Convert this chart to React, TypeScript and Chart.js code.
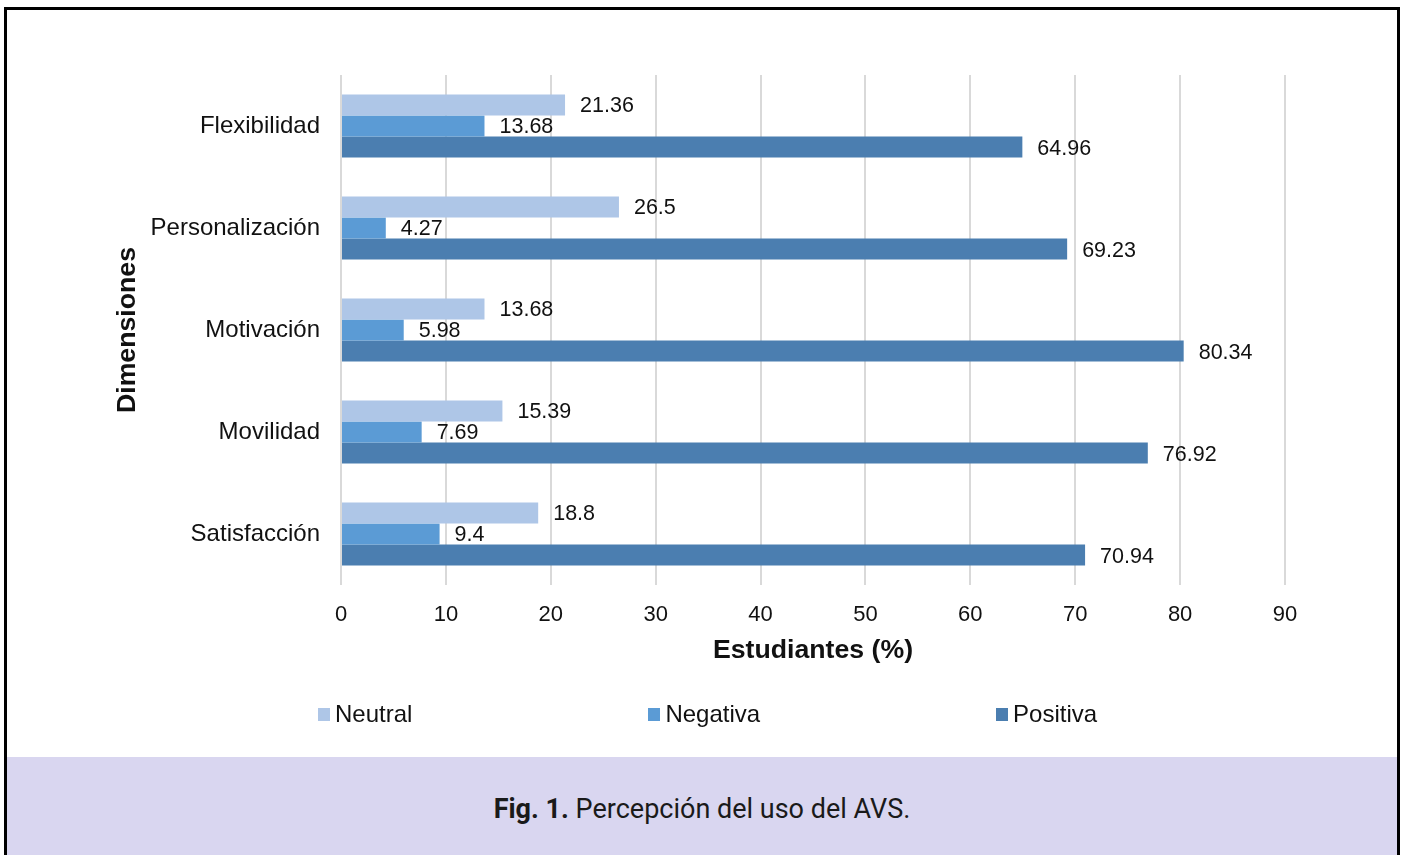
import React, { useEffect, useRef } from "react";
import { Chart, registerables } from "chart.js";

Chart.register(...registerables);

const categories = ["Flexibilidad", "Personalización", "Motivación", "Movilidad", "Satisfacción"];
const seriesNames = ["Neutral", "Negativa", "Positiva"];
const neutralValues = [21.36, 26.5, 13.68, 15.39, 18.8];
const negativeValues = [13.68, 4.27, 5.98, 7.69, 9.4];
const positiveValues = [64.96, 69.23, 80.34, 76.92, 70.94];
const seriesColors = ["#AEC6E7", "#5B9BD5", "#4B7EB0"];
const xMin = 0;
const xMax = 90;
const xStep = 10;
const xTitle = "Estudiantes (%)";
const yTitle = "Dimensiones";
const captionBold = "Fig. 1.";
const captionText = " Percepción del uso del AVS.";

const FONT = "'Liberation Sans', Arial, Helvetica, sans-serif";
const TEXT = "#111111";

const valueLabels = {
  id: "valueLabels",
  afterDatasetsDraw(chart: any) {
    const ctx = chart.ctx;
    ctx.save();
    ctx.font = `21.5px ${FONT}`;
    ctx.fillStyle = TEXT;
    ctx.textAlign = "left";
    ctx.textBaseline = "middle";
    chart.data.datasets.forEach((ds: any, i: number) => {
      const meta = chart.getDatasetMeta(i);
      meta.data.forEach((bar: any, j: number) => {
        const p = bar.getProps(["x", "y"], true);
        ctx.fillText(String(ds.data[j]), p.x + 15, p.y + 1.5);
      });
    });
    ctx.restore();
  },
};

export default function App() {
  const canvasRef = useRef<HTMLCanvasElement | null>(null);

  useEffect(() => {
    if (!canvasRef.current) return;
    const values = [neutralValues, negativeValues, positiveValues];
    const chart = new Chart(canvasRef.current, {
      type: "bar",
      data: {
        labels: categories,
        datasets: seriesNames.map((name, i) => ({
          label: name,
          data: values[i],
          backgroundColor: seriesColors[i],
          borderWidth: 0,
          categoryPercentage: 0.62,
          barPercentage: 1,
        })),
      },
      options: {
        indexAxis: "y",
        animation: false,
        responsive: false,
        devicePixelRatio: 1,
        layout: { padding: { top: 65, right: 112, bottom: 82, left: 0 } },
        plugins: {
          legend: { display: false },
          tooltip: { enabled: false },
        },
        scales: {
          x: {
            type: "linear",
            min: xMin,
            max: xMax,
            ticks: {
              stepSize: xStep,
              color: TEXT,
              font: { family: FONT, size: 22 },
              padding: 17,
            },
            grid: { color: "#D9D9D9", lineWidth: 2, drawTicks: false },
            border: { display: false },
            title: {
              display: true,
              text: xTitle,
              color: TEXT,
              font: { family: FONT, size: 26.7, weight: "bold" },
              padding: { top: 8, bottom: 8 },
            },
            afterFit: (s: any) => {
              s.height = 90;
            },
          },
          y: {
            type: "category",
            ticks: {
              color: TEXT,
              font: { family: FONT, size: 24 },
              padding: 21,
            },
            grid: { display: false, drawTicks: false },
            border: { display: false },
            title: {
              display: true,
              text: yTitle,
              color: TEXT,
              font: { family: FONT, size: 26.7, weight: "bold" },
              padding: { top: 105, bottom: 0 },
            },
            afterFit: (s: any) => {
              s.width = 334;
            },
          },
        },
      },
      plugins: [valueLabels],
    } as any);
    return () => chart.destroy();
  }, []);

  return (
    <div
      style={{
        position: "absolute",
        left: 4,
        top: 7,
        width: 1390,
        height: 845,
        borderTop: "3px solid #000",
        borderLeft: "3px solid #000",
        borderRight: "3px solid #000",
        background: "#fff",
        overflow: "hidden",
      }}
    >
      <canvas
        ref={canvasRef}
        width={1390}
        height={747}
        style={{ position: "absolute", left: 0, top: 0, width: 1390, height: 747 }}
      />
      <div
        style={{
          position: "absolute",
          left: 311,
          top: 690,
          height: 28,
          display: "flex",
          alignItems: "center",
          gap: 236,
          fontFamily: FONT,
          fontSize: 24,
          color: TEXT,
          whiteSpace: "nowrap",
        }}
      >
        {seriesNames.map((name, i) => (
          <div key={name} style={{ display: "flex", alignItems: "center" }}>
            <span
              style={{
                display: "inline-block",
                width: 12,
                height: 13,
                background: seriesColors[i],
                marginRight: 5,
              }}
            />
            <span style={{ lineHeight: "28px" }}>{name}</span>
          </div>
        ))}
      </div>
      <div
        style={{
          position: "absolute",
          left: 0,
          top: 747,
          width: 1390,
          height: 120,
          background: "#D9D6F0",
        }}
      >
        <div
          style={{
            position: "absolute",
            left: 0,
            top: 36,
            width: 1390,
            textAlign: "center",
            fontFamily: "Roboto, 'Noto Sans', sans-serif",
            fontSize: 27,
            lineHeight: "32px",
            color: "#1a1a1a",
          }}
        >
          <span style={{ fontWeight: 700 }}>{captionBold}</span>
          <span>{captionText}</span>
        </div>
      </div>
    </div>
  );
}
